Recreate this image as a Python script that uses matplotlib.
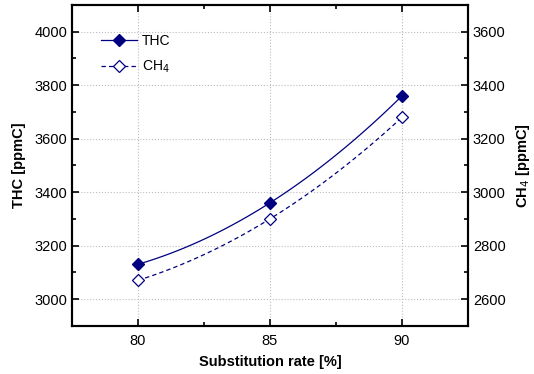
import numpy as np
import matplotlib
matplotlib.use("Agg")
import matplotlib.pyplot as plt
from matplotlib.ticker import MultipleLocator

plt.rcParams['font.family'] = ['Liberation Sans', 'DejaVu Sans']

rate = [80, 85, 90]
thc = [3130, 3360, 3760]
ch4 = [2670, 2900, 3280]

color = '#000080'

fig = plt.figure(figsize=(5.34, 3.74), dpi=100)
ax = fig.add_axes([0.1348, 0.129, 0.7416, 0.8575])
ax2 = ax.twinx()

xs = np.linspace(rate[0], rate[-1], 100)
c1 = np.polyfit(rate, thc, 2)
c2 = np.polyfit(rate, ch4, 2)

ax.plot(xs, np.polyval(c1, xs), color=color, lw=0.9, zorder=3)
ax.plot(rate, thc, ls='none', marker='D', ms=6.2, color=color, zorder=4)
ax2.plot(xs, np.polyval(c2, xs), color=color, lw=0.9, ls=(0, (3.5, 2.5)), zorder=3)
ax2.plot(rate, ch4, ls='none', marker='D', ms=6.2, mfc='white', mec=color, mew=0.9, zorder=4)

# legend proxies
h1, = ax.plot([], [], color=color, lw=0.9, marker='D', ms=6.2)
h2, = ax.plot([], [], color=color, lw=0.9, ls=(0, (3.5, 2.5)), marker='D', ms=6.2,
              mfc='white', mec=color, mew=0.9)
ax.legend([h1, h2], ['THC', 'CH$_4$'], loc='upper left', frameon=False,
          bbox_to_anchor=(0.06, 0.927), fontsize=10, handlelength=2.6,
          handletextpad=0.3, labelspacing=0.75, borderaxespad=0)

ax.set_xlim(77.5, 92.5)
ax.set_ylim(2900, 4100)
ax2.set_ylim(2500, 3700)
ax.xaxis.set_major_locator(MultipleLocator(5))
ax.xaxis.set_minor_locator(MultipleLocator(2.5))
ax.yaxis.set_major_locator(MultipleLocator(200))
ax.yaxis.set_minor_locator(MultipleLocator(100))
ax2.yaxis.set_major_locator(MultipleLocator(200))
ax2.yaxis.set_minor_locator(MultipleLocator(100))

ax.grid(True, which='major', color='#bdbdbd', ls=':', lw=0.8)
ax.set_axisbelow(True)

ax.tick_params(axis='x', which='both', direction='in', top=True, labelsize=10.5, pad=6)
ax.tick_params(axis='y', which='both', direction='in', labelsize=10.5)
ax2.tick_params(axis='y', which='both', direction='in', labelsize=10.5)
for a in (ax, ax2):
    a.tick_params(which='major', length=5, width=1.2)
    a.tick_params(which='minor', length=3, width=1.2)
    for s in a.spines.values():
        s.set_linewidth(1.5)

ax.set_xlabel('Substitution rate [%]', fontsize=10.5, fontweight='bold', labelpad=5)
ax.set_ylabel('THC [ppmC]', fontsize=10.5, fontweight='bold', labelpad=6)
ax2.set_ylabel('CH$_4$ [ppmC]', fontsize=10.5, fontweight='bold', rotation=90, labelpad=6)

fig.savefig('out.png', dpi=100)
